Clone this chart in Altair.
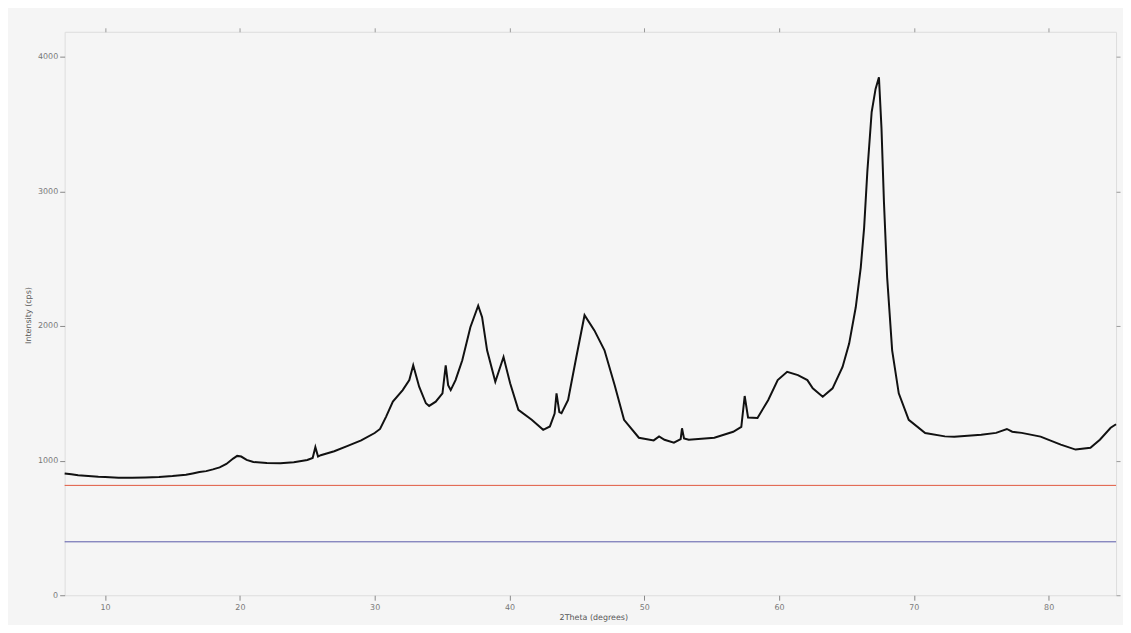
import altair as alt
import pandas as pd

two_theta = [7.0, 7.5, 8.0, 8.5, 9.0, 9.5, 10.0, 11.0, 12.0, 13.0, 14.0, 15.0, 16.0, 16.5, 17.0, 17.5,
             18.0, 18.5, 19.0, 19.5, 19.8, 20.1, 20.5, 21.0, 22.0, 23.0, 24.0, 25.0, 25.4, 25.6, 25.8,
             26.0, 27.0, 28.0, 29.0, 30.0, 30.4, 30.85, 31.35, 32.08, 32.57, 32.86, 33.3, 33.8, 34.04,
             34.53, 35.03, 35.27, 35.45, 35.64, 36.0, 36.5, 37.1, 37.68, 37.97, 38.34, 38.95, 39.56,
             40.05, 40.66, 41.65, 42.5, 43.0, 43.35, 43.49, 43.7, 43.86, 44.35, 44.96, 45.57, 46.3,
             47.05, 47.8, 48.5, 49.6, 50.7, 51.1, 51.5, 52.2, 52.7, 52.8, 52.95, 53.3, 55.2, 56.6,
             57.2, 57.45, 57.7, 58.4, 59.2, 59.9, 60.6, 61.4, 62.1, 62.5, 63.24, 63.97, 64.71, 65.2,
             65.69, 66.06, 66.31, 66.55, 66.87, 67.16, 67.41, 67.6, 67.78, 68.02, 68.39, 68.88, 69.62,
             70.84, 72.3, 73.0, 75.0, 76.1, 76.9, 77.3, 78.0, 79.4, 80.9, 82.0, 83.1, 83.8, 84.6, 85.0]
intensity = [905, 898, 892, 888, 884, 880, 878, 873, 872, 874, 878, 885, 895, 905, 915, 922,
             935, 950, 975, 1015, 1035, 1030, 1005, 990, 982, 980, 988, 1005, 1020, 1100, 1030,
             1040, 1070, 1110, 1150, 1205, 1235, 1327, 1438, 1524, 1598, 1708, 1549, 1426, 1406,
             1438, 1500, 1708, 1560, 1524, 1598, 1745, 1991, 2150, 2065, 1819, 1586, 1770,
             1574, 1377, 1303, 1229, 1254, 1350, 1500, 1360, 1352, 1451, 1770, 2080, 1967,
             1819, 1561, 1303, 1170, 1150, 1180, 1155, 1133, 1160, 1240, 1165, 1155, 1170, 1214,
             1250, 1480, 1320, 1317, 1450, 1598, 1660, 1635, 1598, 1537, 1475, 1537, 1696, 1869,
             2139, 2434, 2729, 3147, 3589, 3761, 3847, 3466, 2925, 2360, 1819, 1500, 1303,
             1205, 1180, 1178, 1192, 1206, 1235, 1215, 1206, 1178, 1119, 1082, 1096, 1155, 1244, 1270]

red_level = [816]
blue_level = [397]
x_ticks = [10, 20, 30, 40, 50, 60, 70, 80]
y_ticks = [0, 1000, 2000, 3000, 4000]
x_domain = [7, 85]
y_domain = [0, 4185]

df = pd.DataFrame({"t": two_theta, "i": intensity})
xs = alt.Scale(domain=x_domain, nice=False, zero=False)
ys = alt.Scale(domain=y_domain, nice=False, zero=False)

label_color = "#777777"

line = alt.Chart(df).mark_line(color="#111111", strokeWidth=2).encode(
    x=alt.X("t:Q", scale=xs, axis=alt.Axis(
        title="2Theta (degrees)", values=x_ticks, grid=False, domain=False, format="d",
        tickColor="#888888", tickSize=5, labelColor=label_color, labelFontSize=8,
        labelPadding=3, titleFontSize=8, titleFontWeight="normal", titleColor="#555555",
        titleX=532, titleY=22, titleBaseline="middle", titleAlign="center")),
    y=alt.Y("i:Q", scale=ys, axis=alt.Axis(
        title="Intensity (cps)", values=y_ticks, grid=False, domain=False, format="d",
        tickColor="#888888", tickSize=5, labelColor=label_color, labelFontSize=8,
        labelPadding=2, titleFontSize=8, titleFontWeight="normal", titleColor="#555555",
        titleX=-36, titleY=285, titleBaseline="middle", titleAlign="center")),
)

mirror = alt.Chart(df).mark_line(opacity=0).encode(
    x=alt.X("t:Q", scale=xs, axis=alt.Axis(
        orient="top", title=None, values=x_ticks, grid=False, domain=False, labels=False,
        tickColor="#999999", tickSize=4)),
    y=alt.Y("i:Q", scale=ys, axis=alt.Axis(
        orient="right", title=None, values=y_ticks, grid=False, domain=False, labels=False,
        tickColor="#999999", tickSize=4)),
)

red = alt.Chart(pd.DataFrame({"v": red_level})).mark_rule(color="#e0583e", strokeWidth=1).encode(
    y=alt.Y("v:Q", scale=ys, axis=None))
blue = alt.Chart(pd.DataFrame({"v": blue_level})).mark_rule(color="#5a5aa8", strokeWidth=1).encode(
    y=alt.Y("v:Q", scale=ys, axis=None))

chart = alt.layer(line, mirror, red, blue).resolve_axis(
    x="independent", y="independent"
).properties(
    width=1058, height=567,
    background="#f5f5f5",
    padding={"left": 57, "top": 22, "right": 7, "bottom": 28},
    autosize=alt.AutoSizeParams(type="none"),
).configure_view(stroke="#999999", strokeWidth=1.5).configure(font="DejaVu Sans")

chart.save("out.html", embed_options={"renderer": "svg", "actions": False})
